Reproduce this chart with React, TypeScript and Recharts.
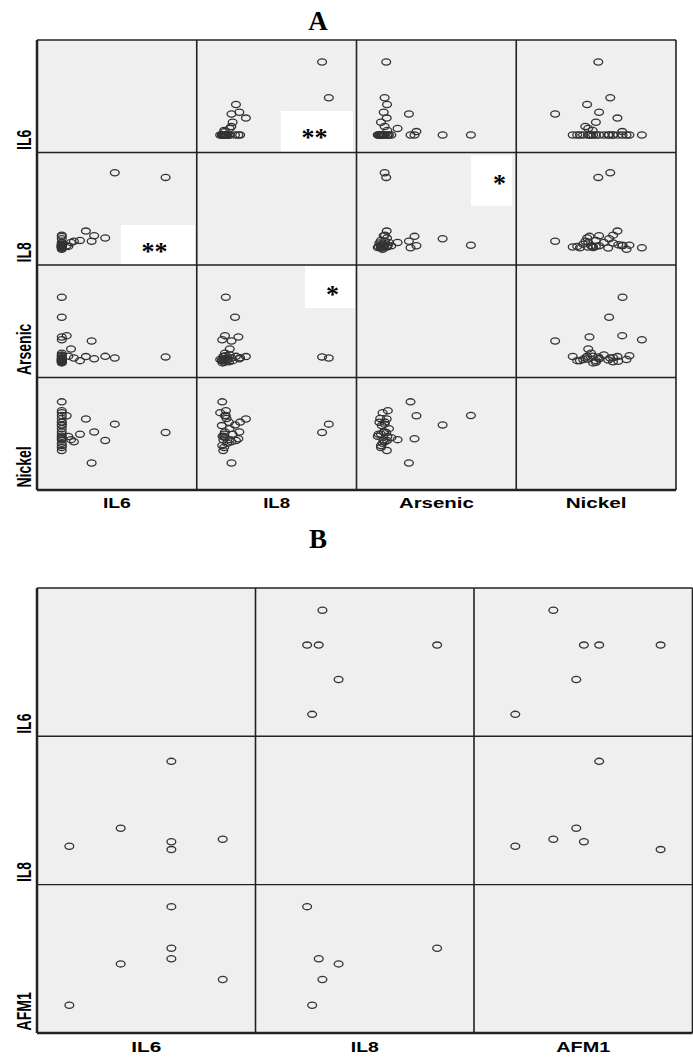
import { ScatterChart, Scatter, XAxis, YAxis } from "recharts";

// Panel A – relative values (0-100 of each variable's axis range), one entry per subject
const namesA = ["IL6", "IL8", "Arsenic", "Nickel"];
const il6A = [80.5, 48.7, 42.7, 35.8, 34.2, 30.6, 26.9, 23.1, 21.3, 19.6, 18.6, 15.5, 15.5, 15.5, 15.5, 15.5, 15.5, 15.5, 15.5, 15.5, 15.5, 15.5, 15.5, 15.5, 15.5, 15.5, 15.5, 15.5, 15.5, 15.5, 15.5];
const il8A = [78.3, 82.5, 24.4, 26.5, 21.6, 30.6, 22.3, 21.5, 20.5, 17.0, 17.5, 18.0, 23.8, 25.9, 15.8, 18.1, 20.0, 16.4, 17.0, 19.0, 16.0, 17.5, 15.5, 18.5, 16.5, 17.0, 20.5, 15.8, 17.5, 27.0, 14.5];
const arsenicA = [18.3, 17.3, 18.8, 16.7, 32.5, 18.6, 15.0, 17.3, 25.4, 19.0, 37.2, 71.3, 53.6, 36.0, 33.5, 19.3, 14.0, 18.7, 15.0, 16.0, 13.0, 17.0, 15.5, 14.5, 16.5, 13.5, 20.0, 15.0, 21.5, 17.5, 16.0];
const nickelA = [51.5, 59.0, 44.5, 52.0, 24.5, 63.5, 50.0, 43.4, 45.2, 48.0, 66.5, 66.7, 58.3, 46.0, 78.8, 71.0, 60.7, 35.5, 38.3, 42.0, 48.3, 52.0, 57.7, 64.0, 45.0, 50.0, 55.0, 40.0, 47.0, 60.8, 69.2];

// Panel B
const namesB = ["IL6", "IL8", "AFM1"];
const il6B = [14.8, 38.3, 61.5, 61.5, 61.5, 85.0];
const il8B = [25.7, 37.8, 23.4, 28.7, 82.9, 30.4];
const afm1B = [18.9, 46.8, 85.4, 50.3, 57.3, 36.3];

const Ring = (props: any) => (
  <ellipse cx={props.cx} cy={props.cy} rx={4.4} ry={3.1} fill="none" stroke="#333" strokeWidth={1.3} />
);

type Panel = { vars: number[][]; names: string[]; left: number; top: number; cw: number; ch: number; xlen: number[] };

const panelA: Panel = { vars: [il6A, il8A, arsenicA, nickelA], names: namesA, left: 37, top: 40, cw: 159.75, ch: 112.5, xlen: [28, 27, 75, 61] };
const panelB: Panel = { vars: [il6B, il8B, afm1B], names: namesB, left: 37, top: 588, cw: 218.5, ch: 148.3, xlen: [30, 28, 54] };

const Cells = ({ p }: { p: Panel }) => {
  const n = p.vars.length;
  const out: any[] = [];
  for (let r = 0; r < n; r++) {
    for (let c = 0; c < n; c++) {
      const data = p.vars[c].map((v, i) => ({ x: v, y: p.vars[r][i] }));
      out.push(
        <div key={`${r}-${c}`} style={{ position: "absolute", left: p.left + c * p.cw, top: p.top + r * p.ch, width: p.cw, height: p.ch, background: "#efefef" }}>
          {r !== c && (
            <ScatterChart width={p.cw} height={p.ch} margin={{ top: 0, right: 0, bottom: 0, left: 0 }}>
              <XAxis type="number" dataKey="x" domain={[0, 100]} hide />
              <YAxis type="number" dataKey="y" domain={[0, 100]} hide />
              <Scatter data={data} shape={Ring} isAnimationActive={false} />
            </ScatterChart>
          )}
        </div>
      );
    }
  }
  return <>{out}</>;
};

const Frame = ({ p, labelY }: { p: Panel; labelY: number }) => {
  const n = p.vars.length;
  const right = p.left + n * p.cw;
  const bottom = p.top + n * p.ch;
  const lines: any[] = [];
  for (let i = 0; i <= n; i++) {
    const x = p.left + i * p.cw;
    const y = p.top + i * p.ch;
    lines.push(<line key={`v${i}`} x1={x} x2={x} y1={p.top} y2={bottom} stroke="#222" strokeWidth={i === 0 ? 2.5 : 1.6} />);
    lines.push(<line key={`h${i}`} x1={p.left} x2={right} y1={y} y2={y} stroke="#222" strokeWidth={i === n ? 2.5 : 1.4} />);
  }
  return (
    <g>
      {lines}
      {p.names.map((name, i) => (
        <text key={`x${i}`} x={p.left + (i + 0.5) * p.cw} y={labelY} textAnchor="middle" fontSize={14} fontWeight="bold" textLength={p.xlen[i]} lengthAdjust="spacingAndGlyphs">
          {name}
        </text>
      ))}
      {p.names.map((name, i) => (
        <text key={`y${i}`} transform={`translate(31, ${p.top + (i + 1) * p.ch - 2.5}) scale(1.5, 1) rotate(-90)`} fontSize={14} fontWeight="bold">
          {name}
        </text>
      ))}
    </g>
  );
};

const Star = ({ x, y, w, h, text, tx, ty }: any) => (
  <g>
    <rect x={x} y={y} width={w} height={h} fill="#fff" />
    <text x={tx} y={ty} textAnchor="middle" fontFamily='"Liberation Serif", serif' fontWeight="bold" fontSize={26}>
      {text}
    </text>
  </g>
);

export default function App() {
  return (
    <div style={{ position: "absolute", left: 0, top: 0, width: 693, height: 1057, background: "#fff", fontFamily: '"Liberation Sans", Arial, sans-serif' }}>
      <Cells p={panelA} />
      <Cells p={panelB} />
      <svg width={693} height={1057} style={{ position: "absolute", left: 0, top: 0, pointerEvents: "none" }} fontFamily='"Liberation Sans", Arial, sans-serif'>
        <Star x={281} y={111} w={72} h={42} text="**" tx={314.5} ty={146} />
        <Star x={121} y={225} w={74} h={40} text="**" tx={154.5} ty={260} />
        <Star x={471} y={155} w={41} h={51} text="*" tx={499.5} ty={192} />
        <Star x={305} y={266} w={50} h={42} text="*" tx={332.5} ty={303} />
        <Frame p={panelA} labelY={508} />
        <Frame p={panelB} labelY={1052} />
        <text x={318} y={30} textAnchor="middle" fontFamily='"Liberation Serif", serif' fontWeight="bold" fontSize={27}>A</text>
        <text x={318} y={548} textAnchor="middle" fontFamily='"Liberation Serif", serif' fontWeight="bold" fontSize={27}>B</text>
      </svg>
    </div>
  );
}
